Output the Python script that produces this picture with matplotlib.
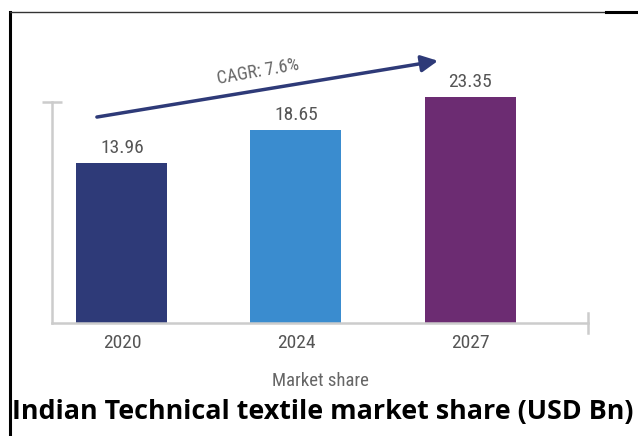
import matplotlib.pyplot as plt
from matplotlib.lines import Line2D

years = ['2020', '2024', '2027']
values = [13.96, 18.65, 23.35]
bar_colors = ['#2e3a78', '#3a8ccf', '#6c2c72']
cagr_label = 'CAGR: 7.6%'
title = 'Indian Technical textile market share (USD Bn)'
xlabel = 'Market share'

W, H = 638, 436
fig = plt.figure(figsize=(W / 100, H / 100), dpi=100)

# axes box in pixels: left 52, right 588, bottom 323, top 40
ax = fig.add_axes([52 / W, (H - 323) / H, (588 - 52) / W, (323 - 40) / H])
ymin, ymax = -8.8, 31.46
ax.set_ylim(ymin, ymax)
ax.set_xlim(-0.402, 2.678)

narrow = ['Roboto Condensed', 'PT Sans Narrow', 'DejaVu Sans']
xs = list(range(len(years)))
for x, v, c in zip(xs, values, bar_colors):
    ax.bar(x, v - ymin, bottom=ymin, width=0.523, color=c, clip_on=False)
    ax.text(x, v + 0.9, f'{v:.2f}', ha='center', va='bottom',
            fontsize=14, color='#555555', family=narrow)

ax.set_xticks(xs)
ax.set_xticklabels(years, fontsize=14, color='#555555', family=narrow)
ax.tick_params(axis='x', length=0, pad=8)
ax.set_xlabel(xlabel, fontsize=13.5, color='#666666', family=narrow, labelpad=14)

# axis lines
for s in ['top', 'right']:
    ax.spines[s].set_visible(False)
for s in ['left', 'bottom']:
    ax.spines[s].set_color('#cccccc')
    ax.spines[s].set_linewidth(1.8)
ytop = ymin + (323 - 102) / 7.03
ax.spines['left'].set_bounds(ymin, ytop)
ax.set_yticks([ytop])
ax.set_yticklabels([''])
ax.tick_params(axis='y', direction='inout', length=14, width=1.8, color='#cccccc')
ax.plot([2.678, 2.678], [ymin - 1.4, ymin + 1.4], color='#cccccc', lw=1.8, clip_on=False)

# CAGR arrow
ax.annotate('', xy=(1.816, 28.5), xytext=(-0.144, 20.5),
            arrowprops=dict(arrowstyle='-|>,head_length=1.0,head_width=0.5',
                            color='#2e3a78', lw=2.5, shrinkA=0, shrinkB=0))
ax.text(0.78, 26.9, cagr_label, rotation=10, ha='center', va='center',
        fontsize=13, color='#666666', family=narrow)

# frame lines of the screenshot
fig.add_artist(Line2D([10 / W, 10 / W], [0, 1 - 12 / H], color='black', lw=2.2))
fig.add_artist(Line2D([10 / W, 606 / W], [1 - 12 / H, 1 - 12 / H], color='#333333', lw=1.0))
fig.add_artist(Line2D([606 / W, 1], [1 - 12 / H, 1 - 12 / H], color='black', lw=2.2))

fig.text(12 / W, 1 - 412 / H, title, ha='left', va='center',
         fontsize=19.4, fontweight='bold', family=['Open Sans', 'DejaVu Sans'])

fig.savefig('out.png', dpi=100)
